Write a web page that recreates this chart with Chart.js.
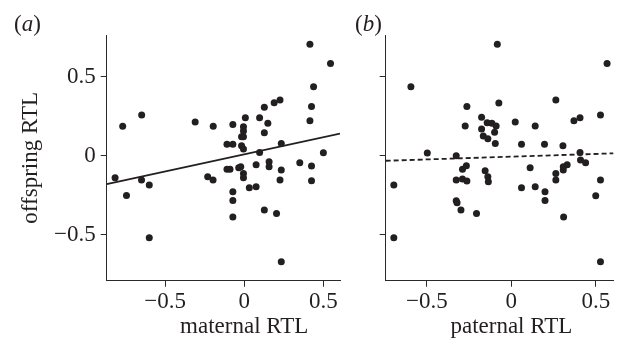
<!DOCTYPE html>
<html>
<head>
<meta charset="utf-8">
<script src="https://cdn.jsdelivr.net/npm/chart.js@4.4.0/dist/chart.umd.min.js"></script>
<style>
    html, body { margin: 0; padding: 0; background: #ffffff; }
    #wrap { position: relative; width: 617px; height: 347px; }
    #chartA { position: absolute; left: 0; top: 0; }
    #chartB { position: absolute; left: 350px; top: 0; }
</style>
</head>
<body>
<div id="wrap">
    <canvas id="chartA" width="350" height="347"></canvas>
    <canvas id="chartB" width="267" height="347"></canvas>
</div>
<script>
// Panel (a): maternal vs offspring RTL
const maternalRTL = [
    -0.816, -0.768, -0.744, -0.648, -0.649, -0.600, -0.600, -0.310, -0.231, -0.196,
    -0.197, -0.109, -0.109, -0.090, -0.072, -0.072, -0.072, -0.072, -0.072, -0.035,
    -0.022, -0.017, -0.017, -0.005, -0.005, -0.005, -0.005, -0.005, -0.005, 0.007,
    0.032, 0.075, 0.075, 0.097, 0.097, 0.127, 0.127, 0.127, 0.149, 0.157,
    0.157, 0.189, 0.204, 0.226, 0.226, 0.234, 0.234, 0.234, 0.351, 0.415,
    0.415, 0.425, 0.425, 0.425, 0.438, 0.500, 0.545
];
const offspringA = [
    -0.139, 0.186, -0.251, 0.258, -0.154, -0.186, -0.519, 0.213, -0.133, 0.186,
    -0.154, 0.072, -0.086, -0.086, 0.198, 0.072, -0.228, -0.283, -0.388, -0.076,
    -0.070, 0.120, 0.063, 0.184, 0.156, 0.120, 0.042, -0.112, -0.139, 0.241,
    -0.203, -0.196, -0.057, 0.241, 0.021, 0.306, 0.146, -0.344, 0.205, -0.038,
    -0.070, 0.335, -0.365, 0.352, -0.154, 0.078, -0.091, -0.671, -0.044, 0.705,
    0.222, 0.312, -0.065, -0.158, 0.437, 0.019, 0.584
];

// Panel (b): paternal vs offspring RTL
const paternalRTL = [
    -0.695, -0.695, -0.594, -0.497, -0.326, -0.326, -0.326, -0.321, -0.298, -0.289,
    -0.289, -0.273, -0.266, -0.263, -0.263, -0.206, -0.176, -0.176, -0.166, -0.155,
    -0.143, -0.139, -0.139, -0.136, -0.115, -0.099, -0.095, -0.090, -0.083, -0.074,
    0.023, 0.060, 0.060, 0.111, 0.141, 0.141, 0.196, 0.199, 0.199, 0.263,
    0.263, 0.263, 0.305, 0.307, 0.307, 0.309, 0.330, 0.370, 0.406, 0.406,
    0.409, 0.439, 0.499, 0.527, 0.527, 0.527, 0.566
];
const offspringB = [
    -0.186, -0.519, 0.437, 0.017, 0.000, -0.154, -0.285, -0.297, -0.344, -0.086,
    -0.148, 0.188, -0.063, 0.312, -0.160, -0.365, 0.243, 0.169, 0.124, -0.095,
    0.209, 0.108, -0.133, -0.165, 0.205, 0.148, 0.078, 0.188, 0.705, 0.333,
    0.213, 0.072, -0.203, -0.076, 0.188, -0.196, 0.072, -0.228, -0.283, 0.352,
    -0.112, -0.154, 0.063, -0.070, -0.091, -0.388, -0.057, 0.222, 0.241, 0.021,
    -0.027, -0.044, -0.253, 0.257, -0.154, -0.671, 0.584
];

// regression lines: [intercept, slope]
const fitA = [0.009, 0.217];
const fitB = [-0.006, 0.035];

const xRangeA = [-0.869, 0.605];
const xRangeB = [-0.743, 0.604];
const yRange = [-0.791, 0.764];
const xTicks = [-0.5, 0, 0.5];
const yTicks = [-0.5, 0, 0.5];

const serif = "'Liberation Serif', 'Times New Roman', serif";
const fontSize = 23;
const ink = '#231f20';
const axisColor = '#2a2a2a';

// minus sign as in the original typesetting
function fmt(v) {
    return v < 0 ? '\u2212' + Math.abs(v) : String(v);
}

function toPoints(xs, ys) {
    return xs.map((x, i) => ({ x: x, y: ys[i] }));
}

function fitLine(fit, range) {
    return range.map(x => ({ x: x, y: fit[0] + fit[1] * x }));
}

// draws the panel letter "(a)" with an italic letter, and the x title under the 0 tick
const panelText = {
    id: 'panelText',
    afterDraw(chart, args, opts) {
        const ctx = chart.ctx;
        ctx.save();
        ctx.fillStyle = ink;
        ctx.textBaseline = 'alphabetic';
        ctx.textAlign = 'left';
        let x = opts.labelX;
        ctx.font = `${fontSize}px ${serif}`;
        ctx.fillText('(', x, opts.labelY);
        x += ctx.measureText('(').width;
        ctx.font = `italic ${fontSize}px ${serif}`;
        ctx.fillText(opts.letter, x, opts.labelY);
        x += ctx.measureText(opts.letter).width;
        ctx.font = `${fontSize}px ${serif}`;
        ctx.fillText(')', x, opts.labelY);

        ctx.textAlign = 'center';
        ctx.fillText(opts.xTitle, chart.scales.x.getPixelForValue(0), opts.titleY);
        ctx.restore();
    }
};

function makePanel(id, xs, ys, fit, xRange, cfg) {
    const ctx = document.getElementById(id);
    return new Chart(ctx, {
        type: 'scatter',
        data: {
            datasets: [
                {
                    data: toPoints(xs, ys),
                    backgroundColor: ink,
                    borderWidth: 0,
                    pointRadius: 3.5,
                    pointHoverRadius: 3.5
                },
                {
                    data: fitLine(fit, xRange),
                    showLine: true,
                    borderColor: ink,
                    borderWidth: 1.8,
                    borderDash: cfg.dash,
                    pointRadius: 0
                }
            ]
        },
        options: {
            responsive: false,
            animation: false,
            layout: {
                padding: { top: 35, right: cfg.padRight, left: 0, bottom: 0 }
            },
            scales: {
                x: {
                    type: 'linear',
                    min: xRange[0],
                    max: xRange[1],
                    afterBuildTicks: s => { s.ticks = xTicks.map(v => ({ value: v })); },
                    afterFit: s => { s.height = 66.3; },
                    grid: { drawOnChartArea: false, tickLength: 6, color: axisColor },
                    border: { color: axisColor, width: 1 },
                    ticks: {
                        color: ink,
                        padding: 1,
                        maxRotation: 0,
                        font: { family: serif, size: fontSize },
                        callback: fmt
                    }
                },
                y: {
                    type: 'linear',
                    min: yRange[0],
                    max: yRange[1],
                    afterBuildTicks: s => { s.ticks = yTicks.map(v => ({ value: v })); },
                    afterFit: s => { s.width = cfg.yWidth; },
                    grid: { drawOnChartArea: false, tickLength: 6, color: axisColor },
                    border: { color: axisColor, width: 1 },
                    ticks: {
                        display: cfg.yLabels,
                        color: ink,
                        padding: 5,
                        font: { family: serif, size: fontSize },
                        callback: fmt
                    },
                    title: {
                        display: !!cfg.yTitle,
                        text: cfg.yTitle || '',
                        color: ink,
                        padding: { top: 17, bottom: 0 },
                        font: { family: serif, size: fontSize }
                    }
                }
            },
            plugins: {
                legend: { display: false },
                tooltip: { enabled: false },
                panelText: {
                    letter: cfg.letter,
                    labelX: cfg.labelX,
                    labelY: 31,
                    xTitle: cfg.xTitle,
                    titleY: 333
                }
            }
        },
        plugins: [panelText]
    });
}

makePanel('chartA', maternalRTL, offspringA, fitA, xRangeA, {
    letter: 'a', labelX: 14, xTitle: 'maternal RTL', yTitle: 'offspring RTL',
    yWidth: 106.7, yLabels: true, padRight: 10, dash: []
});
makePanel('chartB', paternalRTL, offspringB, fitB, xRangeB, {
    letter: 'b', labelX: 5, xTitle: 'paternal RTL',
    yWidth: 35.7, yLabels: false, padRight: 0, dash: [5, 3]
});
</script>
</body>
</html>
